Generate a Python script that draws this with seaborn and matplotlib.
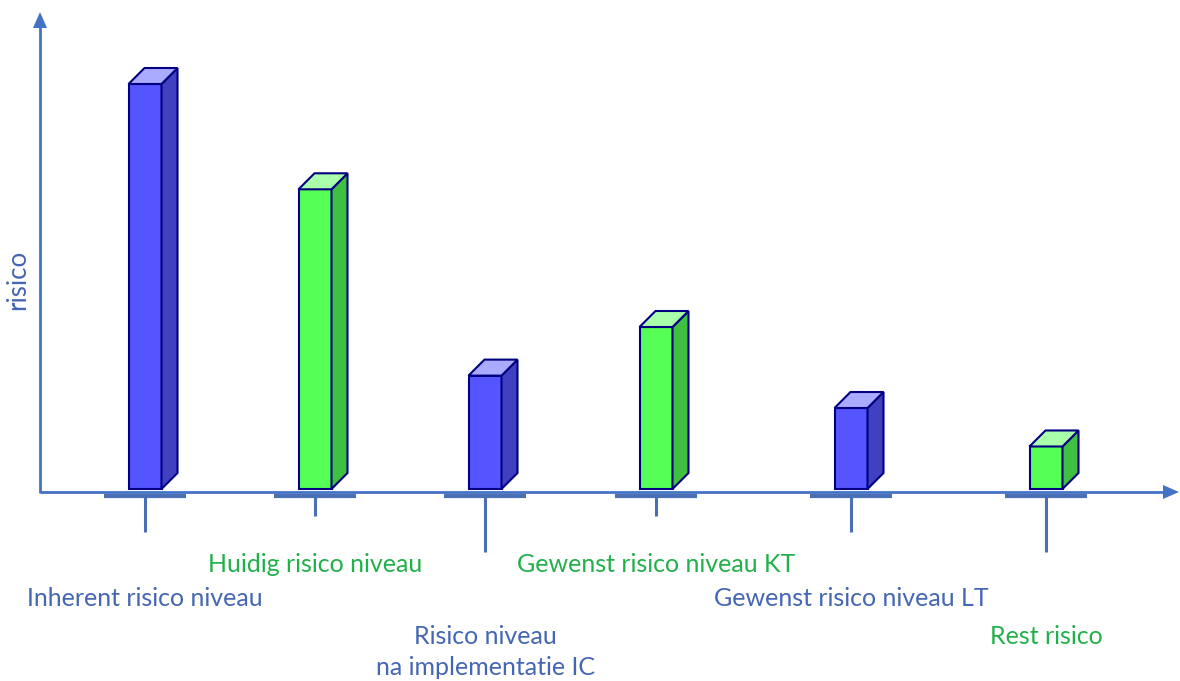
import matplotlib
matplotlib.use("Agg")
import matplotlib.pyplot as plt
from matplotlib.patches import Polygon
import seaborn as sns
import pandas as pd

# ---- data ----
categories = ["Inherent risico niveau", "Huidig risico niveau",
              "Risico niveau\nna implementatie IC", "Gewenst risico niveau KT",
              "Gewenst risico niveau LT", "Rest risico"]
values = [10.0, 7.4, 2.8, 4.0, 2.0, 1.05]
groups = ["blue", "green", "blue", "green", "blue", "green"]

# ---- layout (pixel-based) ----
W, H = 1180, 681
centers = [145, 315, 485, 656, 851, 1046]          # bar centres (px)
label_y = [598, 565, 652, 565, 598, 636]             # label centre y (px)
tick_end = [532, 516, 552, 516, 532, 552]            # vertical tick bottom (px)
base_py = 489
ppu = 40.5  # pixels per unit
bar_w = 33
depth = 16

front = {"blue": "#5555FF", "green": "#55FF55"}
side = {"blue": "#4040C0", "green": "#40C040"}
top = {"blue": "#AAAAFF", "green": "#AAFFAA"}
text_col = {"blue": "#4466B4", "green": "#22B04B"}
edge = "#000080"
axis_col = "#4472C4"

sns.set_theme(style="white")
plt.rcParams["font.family"] = ["Lato", "DejaVu Sans"]

fig = plt.figure(figsize=(W / 100, H / 100), dpi=100)
ax = fig.add_axes([0, 0, 1, 1])

def ypx(py):
    return (base_py - py) / ppu

df = pd.DataFrame({"pos": centers, "val": values, "grp": groups})
sns.barplot(data=df, x="pos", y="val", hue="grp", native_scale=True,
            palette=front, saturation=1, dodge=False, legend=False, ax=ax,
            edgecolor=edge, linewidth=1.5, zorder=3)

ax.set_xlim(0, W)
ax.set_ylim(ypx(H), ypx(0))
ax.axis("off")

dy = depth / ppu
bars = sorted(ax.patches, key=lambda p: p.get_x())
for p, c, v, g in zip(bars, centers, values, groups):
    x0 = c - bar_w / 2
    x1 = c + bar_w / 2
    p.set_x(x0)
    p.set_width(bar_w)
    p.set_y(0)
    p.set_height(v)
    p.set_facecolor(front[g])
    # side face
    ax.add_patch(Polygon([(x1, 0), (x1 + depth, dy), (x1 + depth, v + dy), (x1, v)],
                         closed=True, facecolor=side[g], edgecolor=edge,
                         linewidth=1.5, zorder=3))
    # top face
    ax.add_patch(Polygon([(x0, v), (x0 + depth, v + dy), (x1 + depth, v + dy), (x1, v)],
                         closed=True, facecolor=top[g], edgecolor=edge,
                         linewidth=1.5, zorder=3))

# axes with arrows
ax.plot([40, 1165], [ypx(492), ypx(492)], color=axis_col, lw=2, zorder=2,
        solid_capstyle="butt")
ax.plot([40, 40], [ypx(493), ypx(25)], color=axis_col, lw=2, zorder=2,
        solid_capstyle="butt")
ax.add_patch(Polygon([(1179, ypx(492)), (1163, ypx(485)), (1163, ypx(499))],
                     closed=True, facecolor=axis_col, edgecolor="none", zorder=2))
ax.add_patch(Polygon([(40, ypx(12)), (33, ypx(28)), (47, ypx(28))],
                     closed=True, facecolor=axis_col, edgecolor="none", zorder=2))

# tick plates, ticks and labels
for c, cat, g, ly, te in zip(centers, categories, groups, label_y, tick_end):
    ax.plot([c - 41, c + 41], [ypx(495.5), ypx(495.5)], color="#4A6FB4", lw=3,
            solid_capstyle="butt", zorder=2)
    ax.plot([c, c], [ypx(496), ypx(te)], color="#4A6FB4", lw=2.2,
            solid_capstyle="butt", zorder=2)
    ax.text(c, ypx(ly), cat, ha="center", va="center", fontsize=18,
            color=text_col[g], linespacing=1.45)

ax.text(18, ypx(280), "risico", rotation=90, ha="center", va="center",
        fontsize=18.5, color=text_col["blue"])

fig.savefig("out.png", dpi=100)
